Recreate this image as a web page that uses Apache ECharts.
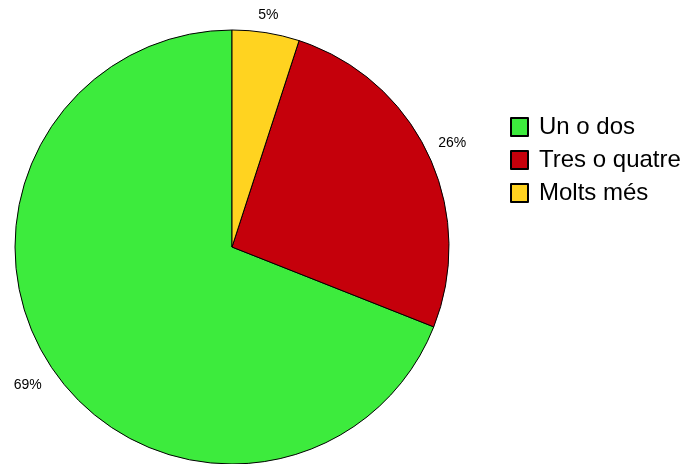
<!DOCTYPE html>
<html>
<head>
<meta charset="utf-8">
<script src="https://cdn.jsdelivr.net/npm/echarts@6/dist/echarts.min.js"></script>
<style>
html,body{margin:0;padding:0;background:#fff;}
#chart{width:686px;height:464px;}
</style>
</head>
<body>
<div id="chart"></div>
<script>
var categories = ['Un o dos', 'Tres o quatre', 'Molts més'];
var values = [69, 26, 5];
var colors = ['#3deb3d', '#c5000b', '#ffd320'];

var pieData = categories.map(function (c, i) {
  return { name: c, value: values[i], itemStyle: { color: colors[i] } };
});
var labelOffsets = [[-2, 1], [-1, 0], [-2, 10]];
var labelData = categories.map(function (c, i) {
  return { name: c, value: values[i], label: { offset: labelOffsets[i] } };
});

var chart = echarts.init(document.getElementById('chart'), null, { renderer: 'canvas' });
chart.setOption({
  animation: false,
  backgroundColor: '#ffffff',
  legend: {
    data: categories,
    orient: 'vertical',
    left: 510,
    top: 115,
    padding: 0,
    itemWidth: 17,
    itemHeight: 18,
    itemGap: 9,
    icon: 'rect',
    selectedMode: false,
    textStyle: { fontFamily: 'Liberation Sans', fontSize: 24, color: '#000', padding: [0, 0, 0, 6] }
  },
  series: [
    {
      type: 'pie',
      center: [232, 247],
      radius: [0, 217],
      startAngle: 90,
      clockwise: false,
      silent: true,
      label: { show: false },
      labelLine: { show: false },
      itemStyle: { borderColor: '#000', borderWidth: 1 },
      data: pieData
    },
    {
      type: 'pie',
      center: [232, 247],
      radius: [217, 266],
      startAngle: 90,
      clockwise: false,
      silent: true,
      itemStyle: { color: 'rgba(0,0,0,0)', borderWidth: 0 },
      label: {
        show: true,
        position: 'inside',
        formatter: '{d}%',
        fontFamily: 'Liberation Sans',
        fontSize: 14,
        color: '#000'
      },
      labelLine: { show: false },
      data: labelData
    }
  ]
});
</script>
</body>
</html>
